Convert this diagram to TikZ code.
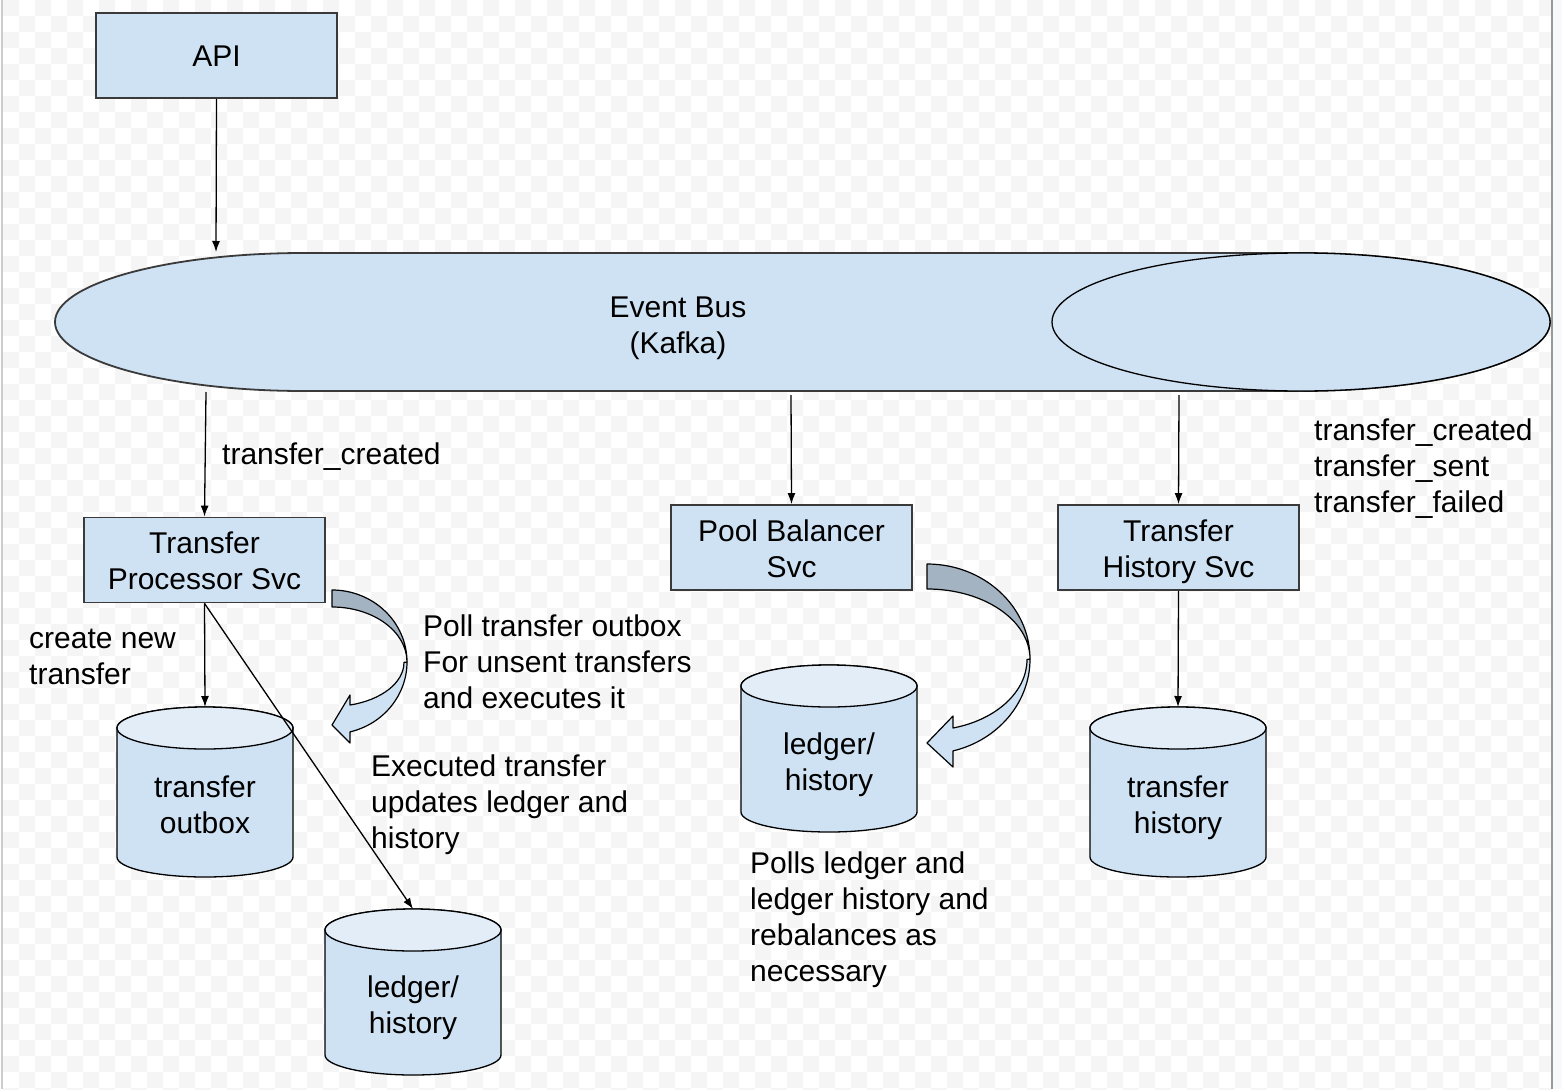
\documentclass[tikz,border=0pt]{standalone}
\usepackage{fontspec}
\setmainfont{Liberation Sans}
\usetikzlibrary{arrows.meta}
\definecolor{boxfill}{HTML}{CFE2F3}
\definecolor{topfill}{HTML}{E2EDF8}
\definecolor{darkband}{HTML}{A3B3C2}
\definecolor{boxline}{HTML}{3A3A3A}
\definecolor{checker}{HTML}{F5F5F5}
\definecolor{rightstrip}{HTML}{F8F9FB}
\newcommand{\tstr}{\rule{0pt}{29.5pt}}
\newcommand{\bstr}{\rule[-6.5pt]{0pt}{6.5pt}}
\newcommand{\dbcyl}[5]{%
  \path[fill=boxfill, draw=black, line width=1.3pt] (#2-88,#3) -- (#2-88,#4)
    arc[start angle=180,end angle=0,x radius=88,y radius=20] -- (#2+88,#3)
    arc[start angle=0,end angle=-180,x radius=88,y radius=21] -- cycle;
  \path[fill=topfill, draw=black, line width=1.3pt] (#2,#3) ellipse[x radius=88,y radius=21];
  \coordinate (#1-top) at (#2,#3-21);
  \node[align=center] (#1) at (#2,{(#3+21+#4+20)/2-9}) {#5};
}
\begin{document}
\begin{tikzpicture}[x=1pt,y=-1pt,
  every node/.style={font=\fontsize{30}{36}\selectfont, inner sep=0pt},
  svcbox/.style={draw=boxline, line width=1.8pt, fill=boxfill, minimum width=241pt, minimum height=85pt, align=center},
  conn/.style={line width=1.3pt, -{Latex[length=11pt,width=8pt]}},
  lbl/.style={anchor=west, align=left},
  band/.style={draw=black, line width=1.2pt, line join=round}
]
\useasboundingbox (0,0) rectangle (1562,1089);
% background
\fill[white] (0,0) rectangle (1562,1089);
\begin{scope}
\clip (2,0) rectangle (1552,1089);
\foreach \j in {0,...,68}{
  \pgfmathtruncatemacro\off{mod(\j,2)*16}
  \foreach \i in {0,32,...,1568}{
    \fill[checker] (\i+\off+3,\j*16) rectangle ++(16,16);
  }
}
\end{scope}
\fill[rightstrip] (1552,0) rectangle (1562,1089);
\draw[line width=1.2pt, color=black!40] (1552,0) -- (1552,1089);
\draw[line width=1.2pt, color=black!20] (2,0) -- (2,1089);

% event bus
\path[fill=boxfill, draw=boxline, line width=1.8pt] (304,253) -- (1301,253)
  arc[start angle=-90,end angle=90,x radius=249,y radius=69] -- (304,391)
  arc[start angle=90,end angle=270,x radius=249,y radius=69] -- cycle;
\draw[line width=1.3pt, fill=boxfill] (1301,322) ellipse[x radius=249, y radius=69];
\node[align=center] (bus) at (678,323.5) {\tstr Event Bus\\(Kafka)\bstr};
\coordinate (busin) at (216,252);
\coordinate (busout1) at (206,392);
\coordinate (busout2) at (791,395);
\coordinate (busout3) at (1179,395);

% boxes
\node[svcbox] (api) at (216.5,55.5) {\tstr API\bstr};
\node[svcbox] (tps) at (204.5,560) {\tstr Transfer\\Processor Svc\bstr};
\node[svcbox] (pbs) at (791.5,547.5) {\tstr Pool Balancer\\Svc\bstr};
\node[svcbox] (ths) at (1178.5,547.5) {\tstr Transfer\\History Svc\bstr};

\draw[conn] (api.south) -- (busin);
\draw[conn] (busout1) -- (tps.north);
\draw[conn] (busout2) -- (pbs.north);
\draw[conn] (busout3) -- (ths.north);

% cylinders
\dbcyl{outbox}{205}{728}{857}{\tstr transfer\\outbox\bstr}
\dbcyl{ledgerA}{413}{930}{1055}{\tstr ledger/\\history\bstr}
\dbcyl{ledgerB}{829}{686}{812}{\tstr ledger/\\history\bstr}
\dbcyl{thist}{1178}{728}{857}{\tstr transfer\\history\bstr}

\draw[conn] (tps.south) -- (outbox-top);
\draw[conn] (tps.south) -- (ledgerA-top);
\draw[conn] (ths.south) -- (thist-top);

% curved arrow 1
\path[band, fill=boxfill] (407,662) arc[start angle=0,end angle=76.1,x radius=75,y radius=72]
  -- (350,743) -- (332,725) -- (350,695) -- (350,705)
  arc[start angle=75.5,end angle=0,x radius=72,y radius=44] -- cycle;
\path[band, fill=darkband] (332,590) arc[start angle=-90,end angle=0,x radius=75,y radius=72]
  arc[start angle=0,end angle=-90,x radius=75,y radius=55] -- cycle;

% curved arrow 2
\path[band, fill=boxfill] (1030,659) arc[start angle=0,end angle=75.38,x radius=103,y radius=95]
  -- (953,767) -- (927,743) -- (953,716) -- (953,728)
  arc[start angle=74.93,end angle=0,x radius=100,y radius=71] -- cycle;
\path[band, fill=darkband] (927,564) arc[start angle=-90,end angle=0,x radius=103,y radius=95]
  arc[start angle=0,end angle=-90,x radius=103,y radius=70] -- cycle;

% labels
\node[lbl] (lblcreated) at (222,453) {\tstr transfer\_created\bstr};
\node[lbl] (lblevents) at (1314,464.5) {\tstr transfer\_created\\transfer\_sent\\transfer\_failed\bstr};
\node[lbl] (lblnew) at (29,654.5) {\tstr create new\\transfer\bstr};
\node[lbl] (lblpoll) at (423,660.5) {\tstr Poll transfer outbox\\For unsent transfers\\and executes it\bstr};
\node[lbl] (lblexec) at (371,801) {\tstr Executed transfer\\updates ledger and\\history\bstr};
\node[lbl] (lblpolls) at (750,915.5) {\tstr Polls ledger and\\ledger history and\\rebalances as\\necessary\bstr};
\end{tikzpicture}
\end{document}
